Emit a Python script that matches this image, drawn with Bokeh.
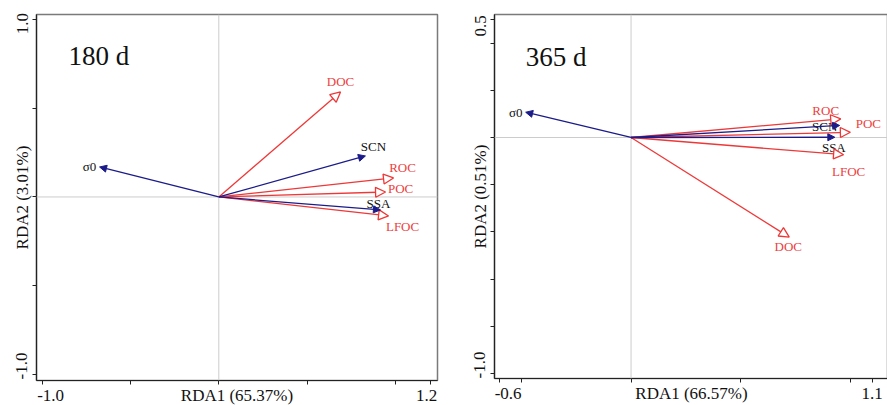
from bokeh.plotting import figure
from bokeh.models import ColumnDataSource, Arrow, NormalHead, Span, Label, FixedTicker
from bokeh.layouts import row
from bokeh.core.properties import value
from bokeh.embed import file_html
from bokeh.resources import INLINE

# ---------------- data ----------------
variables = ["DOC", "SCN", "ROC", "POC", "SSA", "LFOC", "σ0"]
kinds = ["response", "explanatory", "response", "response", "explanatory", "response", "explanatory"]

rda1_180 = [0.689, 0.830, 0.989, 0.944, 0.915, 0.961, -0.675]
rda2_180 = [0.592, 0.231, 0.107, 0.028, -0.073, -0.107, 0.169]

rda1_365 = [0.722, 0.952, 0.957, 1.001, 0.930, 0.970, -0.481]
rda2_365 = [-0.422, 0.051, 0.079, 0.022, 0.001, -0.073, 0.107]

titles = ["180 d", "365 d"]
xlabels = ["RDA1 (65.37%)", "RDA1 (66.57%)"]
ylabels = ["RDA2 (3.01%)", "RDA2 (0.51%)"]

xticks_180 = [-1.0, -0.5, 0.0, 0.5, 1.0, 1.2]
xlabels_180 = ["-1.0", "", "", "", "", "1.2"]
yticks_180 = [-1.0, -0.5, 0.0, 0.5, 1.0]
ylabels_180 = ["-1.0", "", "", "", "1.0"]

xticks_365 = [-0.6, -0.5, 0.0, 0.5, 1.0, 1.1]
xlabels_365 = ["-0.6", "", "", "", "", "1.1"]
yticks_365 = [-1.0, -0.8, -0.6, -0.4, -0.2, 0.0, 0.2, 0.4, 0.5]
ylabels_365 = ["-1.0", "", "", "", "", "", "", "", "0.5"]

# ---------------- styles / layout ----------------
RED = "#ee3838"
RED_TXT = "#ee4040"
NAVY = "#1b1b8a"
FONT = "Liberation Serif"
NB = "\u00a0"

# padding (leading, trailing non-breaking spaces) that keeps end labels inside the frame
pad_x180 = [(4, 0), None, None, None, None, (0, 2)]
pad_y180 = [(4, 0), None, None, None, (0, 2)]
pad_x365 = [(4, 0), None, None, None, None, None]
pad_y365 = [(4, 0)] + [None] * 7 + [(0, 3)]

# label pixel offsets (dx, dy) from arrow tips, screen px (+y down)
offs_180 = [(0, -10), (8, -9), (9, -10), (15, -3), (-2, -6), (14, 11), (-10, 0)]
offs_365 = [(-1, 9), (-15, 1), (-15, -8), (18, -9), (-1, 10), (5, 17), (-10, 0)]


def padded(labs, pads):
    out = []
    for l, pd in zip(labs, pads):
        out.append(l if pd is None else NB * pd[0] + l + NB * pd[1])
    return out


def panel(xs, ys, offs, xr, yr, xt, xtl, yt, ytl, xlab, ylab, title, title_pos,
          fw, fh, bl, br, bt, bb):
    p = figure(x_range=xr, y_range=yr, frame_width=fw, frame_height=fh,
               min_border_left=bl, min_border_right=br, min_border_top=bt,
               min_border_bottom=bb, output_backend="svg", toolbar_location=None,
               tools="", background_fill_color="white", border_fill_color="white")
    p.grid.visible = False
    p.outline_line_color = "#7a7a7a"
    p.outline_line_width = 1.5

    for ax, ticks, labs in ((p.xaxis[0], xt, xtl), (p.yaxis[0], yt, ytl)):
        ax.ticker = FixedTicker(ticks=ticks, minor_ticks=[])
        ax.major_label_overrides = {t: l for t, l in zip(ticks, labs)}
        ax.axis_line_color = "#222222"
        ax.axis_line_width = 1.2
        ax.major_tick_line_color = "#222222"
        ax.major_tick_out = 4
        ax.major_tick_in = 0
        ax.minor_tick_line_color = None
        ax.major_label_text_font = FONT
        ax.major_label_text_font_size = "17px"
        ax.major_label_text_color = "#111111"
        ax.major_label_standoff = 1
        ax.axis_label_text_font = FONT
        ax.axis_label_text_font_size = "17px"
        ax.axis_label_text_font_style = "normal"
        ax.axis_label_text_color = "#111111"
        ax.axis_label_standoff = -22
    p.xaxis[0].axis_label = xlab
    p.yaxis[0].axis_label = ylab
    p.yaxis[0].major_label_orientation = "vertical"

    p.add_layout(Span(location=0, dimension="height", line_color="#cccccc", line_width=1))
    p.add_layout(Span(location=0, dimension="width", line_color="#cccccc", line_width=1))

    for kind, col, hsize in (("response", RED, 10), ("explanatory", NAVY, 7)):
        idx = [i for i, k in enumerate(kinds) if k == kind]
        src = ColumnDataSource(dict(
            x0=[0.0] * len(idx), y0=[0.0] * len(idx),
            x1=[xs[i] for i in idx], y1=[ys[i] for i in idx]))
        if kind == "response":
            head = NormalHead(size=hsize, fill_color="white", line_color=col, line_width=1.3)
        else:
            head = NormalHead(size=hsize, fill_color=col, line_color=col, line_width=1)
        p.add_layout(Arrow(end=head, x_start="x0", y_start="y0", x_end="x1", y_end="y1",
                           source=src, line_color=col, line_width=1.3))

    tsrc = ColumnDataSource(dict(
        x=xs, y=ys, t=variables,
        c=[RED_TXT if k == "response" else "#111111" for k in kinds],
        dx=[o[0] for o in offs], dy=[o[1] for o in offs]))
    p.text(x="x", y="y", text="t", source=tsrc, text_color="c", x_offset="dx",
           y_offset="dy", text_align="center", text_baseline="middle",
           text_font=value(FONT), text_font_size="13px")

    p.add_layout(Label(x=title_pos[0], y=title_pos[1], text=title, text_font=FONT,
                       text_font_size="27px", text_color="#111111",
                       text_baseline="alphabetic", text_align="left"))
    return p


p1 = panel(rda1_180, rda2_180, offs_180, (-1.032, 1.238), (-1.034, 1.028),
           xticks_180, padded(xlabels_180, pad_x180),
           yticks_180, padded(ylabels_180, pad_y180),
           xlabels[0], ylabels[0], titles[0], (-0.851, 0.797),
           401, 366, 36, 30, 14, 25)
p2 = panel(rda1_365, rda2_365, offs_365, (-0.6233, 1.175), (-1.021, 0.521),
           xticks_365, padded(xlabels_365, pad_x365),
           yticks_365, padded(ylabels_365, pad_y365),
           xlabels[1], ylabels[1], titles[1], (-0.481, 0.343),
           394, 364, 24, 0, 14, 27)

layout = row(p1, p2)
open("out.html", "w").write(file_html(layout, INLINE))
